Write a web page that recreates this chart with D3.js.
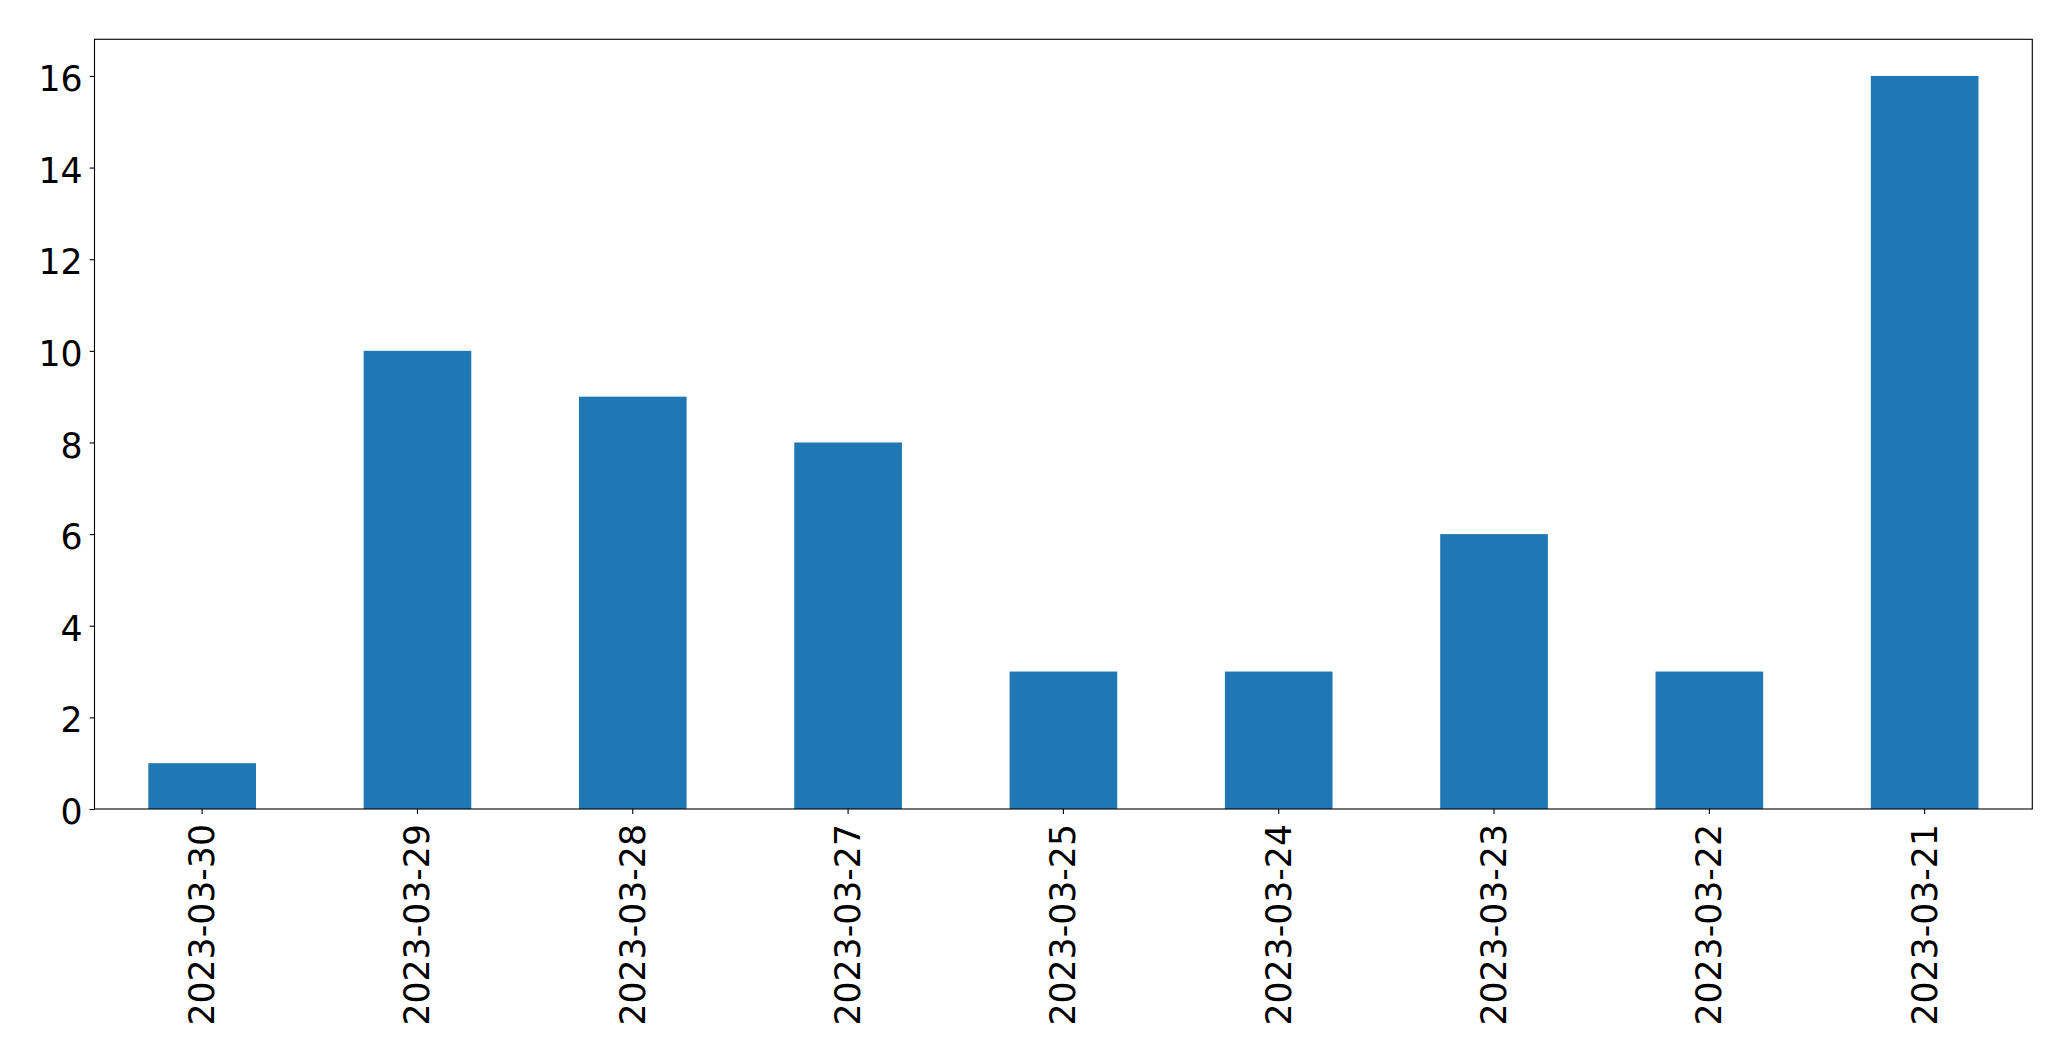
<!DOCTYPE html>
<html>
<head>
<meta charset="utf-8">
<script src="https://cdn.jsdelivr.net/npm/d3@7"></script>
<style>
html,body{margin:0;padding:0;background:#fff;}
svg{display:block;}
text{font-family:"DejaVu Sans",sans-serif;fill:#000;}
</style>
</head>
<body>
<svg id="chart" width="2071" height="1061"></svg>
<script>
const categories = ["2023-03-30","2023-03-29","2023-03-28","2023-03-27","2023-03-25","2023-03-24","2023-03-23","2023-03-22","2023-03-21"];
const values = [1, 10, 9, 8, 3, 3, 6, 3, 16];
const yTicks = [0, 2, 4, 6, 8, 10, 12, 14, 16];

(function () {
const mLeft = 94.5, mRight = 2032.3, mTop = 39.3, mBottom = 809;
const svg = d3.select("#chart");

const x = d3.scaleBand().domain(categories).range([mLeft, mRight]).paddingInner(0.5).paddingOuter(0.25);
const y = d3.scaleLinear().domain([0, d3.max(values) * 1.05]).range([mBottom, mTop]);

svg.append("g").selectAll("rect").data(values).join("rect")
  .attr("x", (d, i) => x(categories[i]))
  .attr("width", x.bandwidth())
  .attr("y", d => y(d))
  .attr("height", d => y(0) - y(d))
  .attr("fill", "#1f77b4");

const fs = 34.7;
const ya = svg.append("g").attr("transform", `translate(${mLeft},0)`)
  .call(d3.axisLeft(y).tickValues(yTicks).tickSize(4.9).tickPadding(7).tickFormat(d3.format("d")));
ya.select(".domain").remove();
ya.selectAll("line").attr("stroke", "#000").attr("stroke-width", 1.1);
ya.selectAll("text").attr("font-size", fs).attr("font-family", "DejaVu Sans").attr("dy", "0.42em");

const xa = svg.append("g").attr("transform", `translate(0,${mBottom})`)
  .call(d3.axisBottom(x).tickSize(4.9).tickPadding(0));
xa.select(".domain").remove();
xa.selectAll("line").attr("stroke", "#000").attr("stroke-width", 1.1);
xa.selectAll("text")
  .attr("font-size", fs).attr("font-family", "DejaVu Sans")
  .attr("text-anchor", "end")
  .attr("dy", null)
  .attr("dominant-baseline", "central")
  .attr("transform", "translate(0,15) rotate(-90)")
  .attr("y", 0).attr("x", 0);

svg.append("rect").attr("x", mLeft).attr("y", mTop)
  .attr("width", mRight - mLeft).attr("height", mBottom - mTop)
  .attr("fill", "none").attr("stroke", "#000").attr("stroke-width", 1.1);
})();
</script>
</body>
</html>
